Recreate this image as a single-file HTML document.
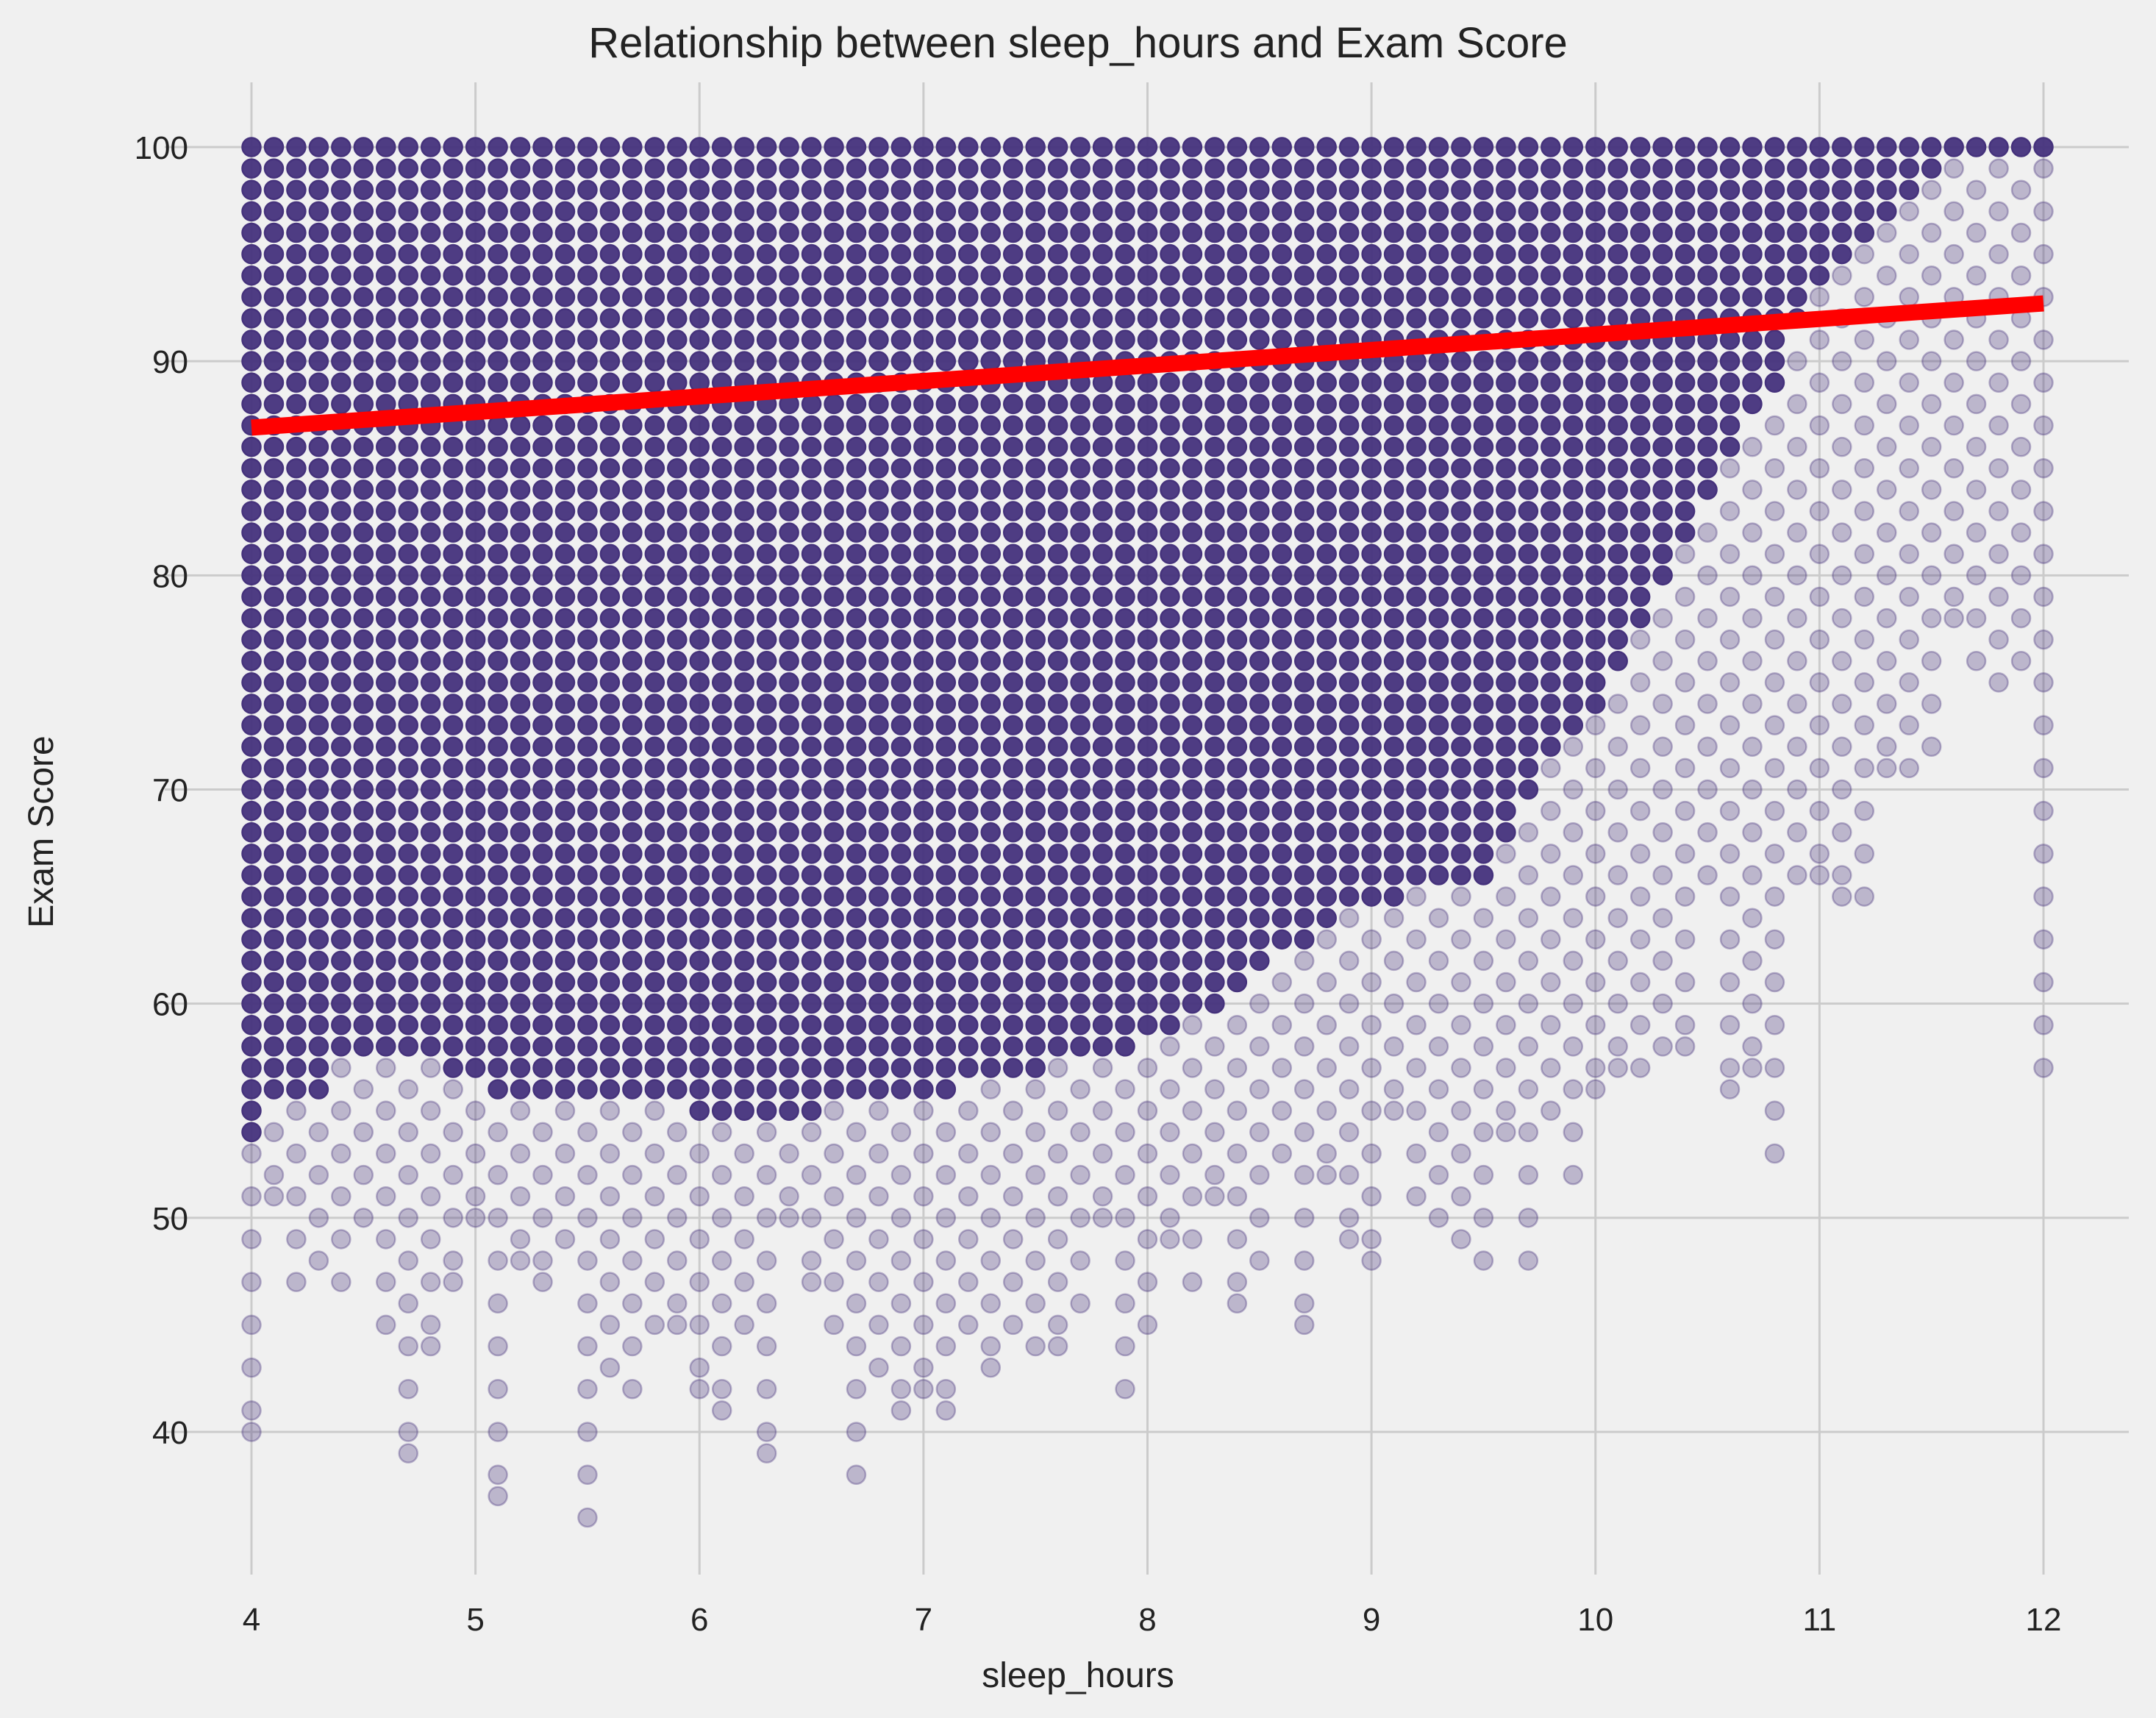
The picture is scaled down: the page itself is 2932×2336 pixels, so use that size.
<!DOCTYPE html>
<html><head><meta charset="utf-8"><style>
html,body{margin:0;padding:0;background:#f0f0f0;}
svg{display:block;font-family:"Liberation Sans","DejaVu Sans",sans-serif;}
</style></head><body>
<svg id="chart" width="2932" height="2336" viewBox="0 0 2932 2336" xmlns="http://www.w3.org/2000/svg">
<rect width="2932" height="2336" fill="#f0f0f0"/>
<g id="grid"></g>
<g id="points"></g>
<g id="fit"></g>
<g id="axes"></g>
<text x="1466" y="78" text-anchor="middle" font-size="58" fill="#222">Relationship between sleep_hours and Exam Score</text>
<text x="1466" y="2294" text-anchor="middle" font-size="48" fill="#222">sleep_hours</text>
<text transform="translate(72,1131) rotate(-90)" text-anchor="middle" font-size="48" fill="#222">Exam Score</text>
</svg>
<script>
const xTicks=[4,5,6,7,8,9,10,11,12];
const yTicks=[40,50,60,70,80,90,100];
const sleepHours=[4.0,4.1,4.2,4.3,4.4,4.5,4.6,4.7,4.8,4.9,5.0,5.1,5.2,5.3,5.4,5.5,5.6,5.7,5.8,5.9,6.0,6.1,6.2,6.3,6.4,6.5,6.6,6.7,6.8,6.9,7.0,7.1,7.2,7.3,7.4,7.5,7.6,7.7,7.8,7.9,8.0,8.1,8.2,8.3,8.4,8.5,8.6,8.7,8.8,8.9,9.0,9.1,9.2,9.3,9.4,9.5,9.6,9.7,9.8,9.9,10.0,10.1,10.2,10.3,10.4,10.5,10.6,10.7,10.8,10.9,11.0,11.1,11.2,11.3,11.4,11.5,11.6,11.7,11.8,11.9,12.0];
const lowestScore=[40,51,47,48,47,50,45,39,44,47,50,37,48,47,49,36,43,42,45,45,42,41,45,39,50,47,45,38,43,41,42,41,45,43,45,44,44,46,50,42,45,49,47,51,46,48,53,45,52,49,48,55,51,50,49,48,54,48,55,52,56,57,57,58,58,66,56,57,53,66,66,65,65,71,71,72,78,76,75,76,57];
const denseMinScore=[54,56,56,56,58,58,58,58,58,57,57,56,56,56,56,56,56,56,56,56,55,55,55,55,55,55,56,56,56,56,56,56,57,57,57,57,58,58,58,58,59,59,60,60,61,62,63,63,64,65,65,65,66,66,66,66,68,70,72,73,74,76,78,80,82,84,86,88,89,92,94,95,96,97,98,99,100,100,100,100,100];
const fitX=[4,12];
const fitY=[86.9,92.7];

const NS="http://www.w3.org/2000/svg";
const X0=224,X1=2895,Y0=112,Y1=2141;
const sx=v=>342+(v-4)*(2779-342)/8;
const sy=v=>200+(100-v)*(1947-200)/60;
function mk(t,a,p){const e=document.createElementNS(NS,t);for(const k in a)e.setAttribute(k,a[k]);p.appendChild(e);return e;}
const grid=document.getElementById('grid'),axes=document.getElementById('axes'),pts=document.getElementById('points'),fit=document.getElementById('fit');
xTicks.forEach(t=>{
  const l=mk('line',{x1:sx(t),x2:sx(t),y1:Y0,y2:Y1,stroke:'#cbcbcb','stroke-width':3},grid);
  
  
  const tx=mk('text',{x:sx(t),y:2217,'text-anchor':'middle','font-size':44,fill:'#222'},axes);
  tx.textContent=t;
  
  
});
yTicks.forEach(t=>{
  const l=mk('line',{x1:X0,x2:X1,y1:sy(t),y2:sy(t),stroke:'#cbcbcb','stroke-width':3},grid);
  
  
  const tx=mk('text',{x:256,y:sy(t)+16,'text-anchor':'end','font-size':44,fill:'#222'},axes);
  tx.textContent=t;
  
  
});
sleepHours.forEach((h,i)=>{
  for(let s=lowestScore[i];s<=100;s++){
    const dense=s>=denseMinScore[i];
    if(!dense && s!==lowestScore[i] && (s+i)%2===0) continue;
    const c=mk('circle',{cx:sx(h),cy:sy(s),r:12.5,fill:'#45327c','fill-opacity':dense?0.95:0.3,stroke:'#45327c','stroke-opacity':dense?1:0.35,'stroke-width':2.5},pts);
    
    
  }
});
const fl=mk('line',{x1:sx(fitX[0]),y1:sy(fitY[0]),x2:sx(fitX[1]),y2:sy(fitY[1]),stroke:'#ff0000','stroke-width':22},fit);


</script>
</body></html>
